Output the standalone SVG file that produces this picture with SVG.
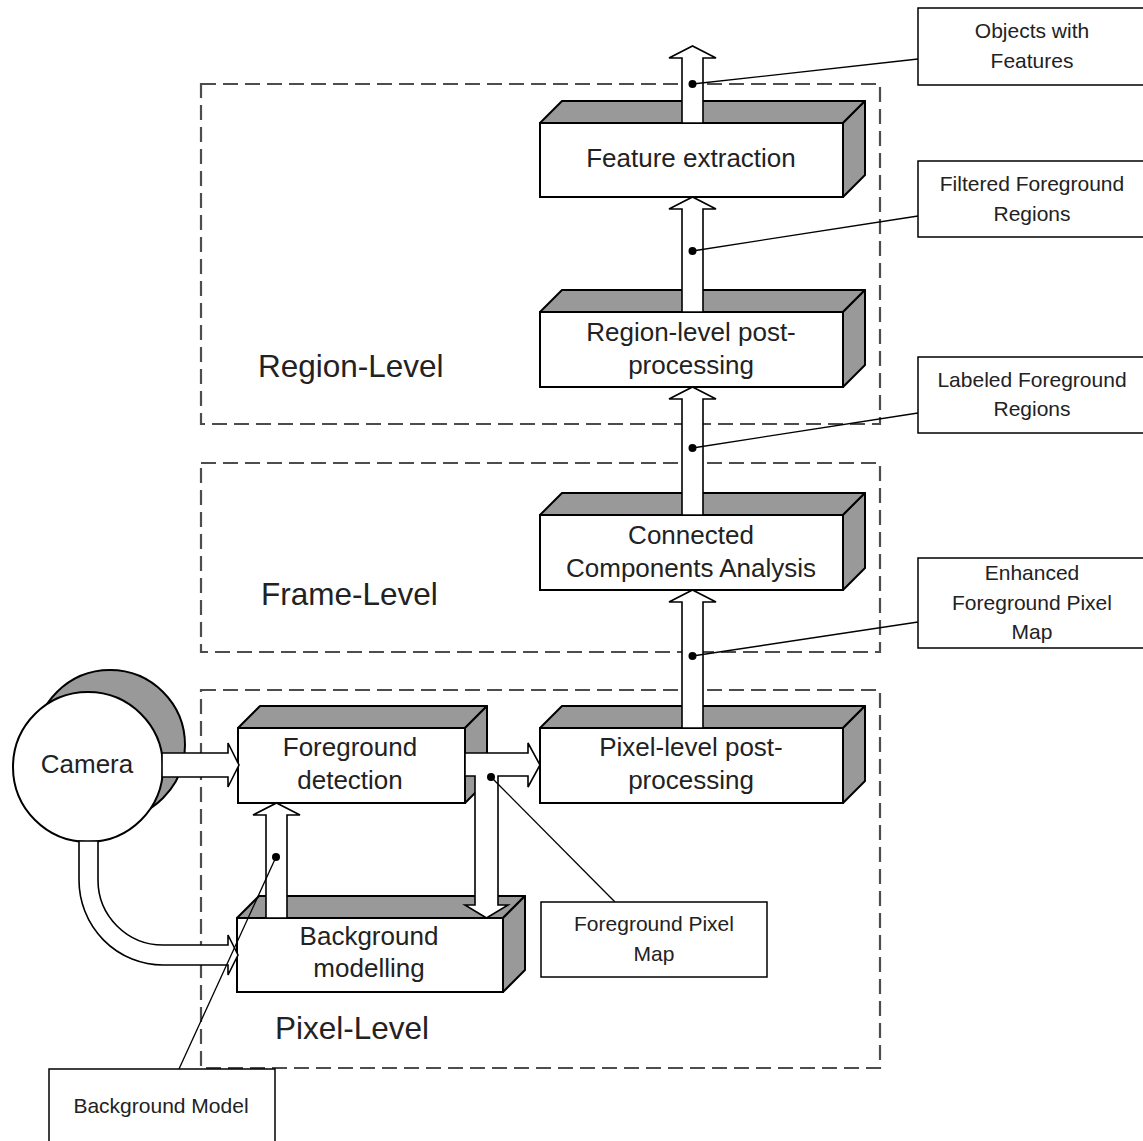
<svg xmlns="http://www.w3.org/2000/svg" width="1143" height="1141" viewBox="0 0 1143 1141">
<style>
.lvl{fill:none;stroke:#4d4d4d;stroke-width:2.2;stroke-dasharray:15 7}
.lvlt{font-family:"Liberation Sans",Arial,sans-serif;font-size:31.5px;fill:#222}
.front{fill:#fff;stroke:#000;stroke-width:2}
.shade{fill:#999;stroke:#000;stroke-width:2;stroke-linejoin:round}
.bt{font-family:"Liberation Sans",Arial,sans-serif;font-size:26px;fill:#222;text-anchor:middle}
.arr{fill:#fff;stroke:#000;stroke-width:1.6;stroke-linejoin:miter}
.cl{fill:none;stroke:#000;stroke-width:1.3}
.dot{fill:#000}
.cb{fill:#fff;stroke:#000;stroke-width:1.5}
.ct{font-family:"Liberation Sans",Arial,sans-serif;font-size:21px;fill:#222;text-anchor:middle}
</style>
<rect width="1143" height="1141" fill="#fff"/>

<g id="levels">
  <g id="region-level">
    <rect class="lvl" x="201" y="84" width="679" height="340"/>
    <text class="lvlt" x="258" y="377">Region-Level</text>
  </g>
  <g id="frame-level">
    <rect class="lvl" x="201" y="463" width="679" height="189"/>
    <text class="lvlt" x="261" y="605">Frame-Level</text>
  </g>
  <g id="pixel-level">
    <rect class="lvl" x="201" y="690" width="679" height="378"/>
    <text class="lvlt" x="275" y="1039">Pixel-Level</text>
  </g>
</g>

<g id="camera">
  <circle cx="110" cy="745" r="75" class="shade"/>
  <circle cx="88" cy="767" r="75" class="front"/>
  <text class="bt" x="87" y="773">Camera</text>
</g>

<g id="feature-extraction">
  <path class="shade" d="M540,123 L562,101 L865,101 L843,123 Z"/>
  <path class="shade" d="M843,123 L865,101 L865,175 L843,197 Z"/>
  <rect class="front" x="540" y="123" width="303" height="74"/>
  <text class="bt" x="691" y="167">Feature extraction</text>
</g>

<g id="region-postprocessing">
  <path class="shade" d="M540,312 L562,290 L865,290 L843,312 Z"/>
  <path class="shade" d="M843,312 L865,290 L865,365 L843,387 Z"/>
  <rect class="front" x="540" y="312" width="303" height="75"/>
  <text class="bt" x="691" y="341">Region-level post-</text>
  <text class="bt" x="691" y="374">processing</text>
</g>

<g id="connected-components">
  <path class="shade" d="M540,515 L562,493 L865,493 L843,515 Z"/>
  <path class="shade" d="M843,515 L865,493 L865,568 L843,590 Z"/>
  <rect class="front" x="540" y="515" width="303" height="75"/>
  <text class="bt" x="691" y="544">Connected</text>
  <text class="bt" x="691" y="577">Components Analysis</text>
</g>

<g id="pixel-postprocessing">
  <path class="shade" d="M540,728 L562,706 L865,706 L843,728 Z"/>
  <path class="shade" d="M843,728 L865,706 L865,781 L843,803 Z"/>
  <rect class="front" x="540" y="728" width="303" height="75"/>
  <text class="bt" x="691" y="756">Pixel-level post-</text>
  <text class="bt" x="691" y="789">processing</text>
</g>

<g id="foreground-detection">
  <path class="shade" d="M238,728 L260,706 L487,706 L465,728 Z"/>
  <path class="shade" d="M465,728 L487,706 L487,781 L465,803 Z"/>
  <rect class="front" x="238" y="728" width="227" height="75"/>
  <text class="bt" x="350" y="756">Foreground</text>
  <text class="bt" x="350" y="789">detection</text>
</g>

<g id="background-modelling">
  <path class="shade" d="M237,918 L259,896 L525,896 L503,918 Z"/>
  <path class="shade" d="M503,918 L525,896 L525,970 L503,992 Z"/>
  <rect class="front" x="237" y="918" width="266" height="74"/>
  <text class="bt" x="369" y="945">Background</text>
  <text class="bt" x="369" y="977">modelling</text>
</g>

<g id="connectors">
  <path class="arr" d="M682,123 V58 H669 L692.5,46 L716,58 H703 V123 Z"/>
  <path class="arr" d="M682,312 V209 H669 L692.5,197 L716,209 H703 V312 Z"/>
  <path class="arr" d="M682,515 V399 H669 L692.5,387 L716,399 H703 V515 Z"/>
  <path class="arr" d="M682,728 V602 H669 L692.5,590 L716,602 H703 V728 Z"/>
  <path class="arr" d="M162,753 H228 V743 L239,765 L228,787 V777 H162 Z"/>
  <path class="arr" d="M79,841 V880 A84 85 0 0 0 163,965 H228 V975 L238,955 L228,935 V945 H163 A65 65 0 0 1 98,880 V841 Z"/>
  <path class="arr" d="M465,753 H528 V743 L540,765 L528,787 V776 H498 V905 H508 L486.5,918 L465,905 H475 V776 H465 Z"/>
  <path class="arr" d="M266,918 V815 H253 L276.5,803 L300,815 H287 V918 Z"/>

  <line class="cl" x1="692.5" y1="84" x2="918" y2="59"/>
  <circle class="dot" cx="692.5" cy="84" r="4"/>
  <line class="cl" x1="692.5" y1="251" x2="918" y2="216"/>
  <circle class="dot" cx="692.5" cy="251" r="4"/>
  <line class="cl" x1="692.5" y1="448" x2="918" y2="413"/>
  <circle class="dot" cx="692.5" cy="448" r="4"/>
  <line class="cl" x1="692.5" y1="656" x2="918" y2="622"/>
  <circle class="dot" cx="692.5" cy="656" r="4"/>
  <line class="cl" x1="491" y1="777" x2="615" y2="902"/>
  <circle class="dot" cx="491" cy="777" r="4"/>
  <line class="cl" x1="276" y1="857" x2="179" y2="1069"/>
  <circle class="dot" cx="276" cy="857" r="4"/>
</g>

<g id="callout-objects">
  <rect class="cb" x="918" y="8" width="235" height="77"/>
  <text class="ct" x="1032" y="38">Objects with</text>
  <text class="ct" x="1032" y="68">Features</text>
</g>
<g id="callout-filtered">
  <rect class="cb" x="918" y="161" width="235" height="76"/>
  <text class="ct" x="1032" y="191">Filtered Foreground</text>
  <text class="ct" x="1032" y="221">Regions</text>
</g>
<g id="callout-labeled">
  <rect class="cb" x="918" y="357" width="235" height="76"/>
  <text class="ct" x="1032" y="387">Labeled Foreground</text>
  <text class="ct" x="1032" y="416">Regions</text>
</g>
<g id="callout-enhanced">
  <rect class="cb" x="918" y="558" width="235" height="90"/>
  <text class="ct" x="1032" y="580">Enhanced</text>
  <text class="ct" x="1032" y="610">Foreground Pixel</text>
  <text class="ct" x="1032" y="639">Map</text>
</g>
<g id="callout-fg-pixel-map">
  <rect class="cb" x="541" y="902" width="226" height="75"/>
  <text class="ct" x="654" y="931">Foreground Pixel</text>
  <text class="ct" x="654" y="961">Map</text>
</g>
<g id="callout-bg-model">
  <rect class="cb" x="49" y="1069" width="226" height="85"/>
  <text class="ct" x="161" y="1113">Background Model</text>
</g>
</svg>
